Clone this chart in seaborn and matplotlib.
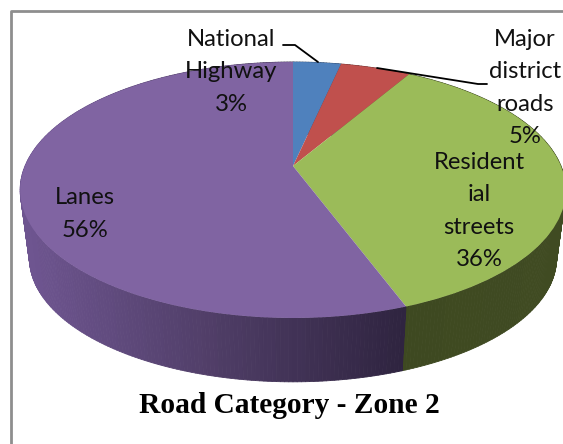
import numpy as np
import matplotlib
matplotlib.use("Agg")
import matplotlib.pyplot as plt
from matplotlib.transforms import Transform
from matplotlib.collections import PolyCollection
import seaborn as sns

categories = ["National\nHighway", "Major\ndistrict\nroads", "Resident\nial\nstreets", "Lanes"]
values = [3.4, 5.0, 35.95, 55.65]
top_colors = ["#4F81BD", "#C0504D", "#9BBB59", "#8064A2"]
side_ramps = [["#2F4A70", "#2F4A70"], ["#70302E", "#70302E"],
              ["#404B22", "#3E4921"], ["#2F2440", "#4F3D66", "#6E5590"]]
title_text = "Road Category - Zone 2"

sns.set_theme(style="white")
plt.rcParams["font.family"] = ["Lato", "DejaVu Sans"]

CX, CY, SX, SY, K = 293.0, 166.0, 268.0, 123.5, 0.1875
DROP, SHRINK = 69.0, 0.966


def project(u, v, lower=False):
    w = 1 + K * v
    x, y = SX * u / w, -SY * v / w
    if lower:
        return CX + SHRINK * x, CY + DROP + SHRINK * y
    return CX + x, CY + y


class Perspective(Transform):
    input_dims = output_dims = 2
    is_affine = False

    def transform_non_affine(self, values):
        values = np.asarray(values)
        x, y = project(values[:, 0], values[:, 1])
        return np.column_stack([x, y])


fig = plt.figure(figsize=(5.63, 4.44), dpi=100, facecolor="white")
ax = fig.add_axes([0, 0, 1, 1])
wedges, _ = ax.pie(values, colors=top_colors, startangle=90, counterclock=False,
                   wedgeprops={"linewidth": 0})
persp = Perspective() + ax.transData
for w in wedges:
    w.set_transform(persp)
    w.set_zorder(3)
ax.set_aspect("auto")
ax.set_xlim(0, 563)
ax.set_ylim(444, 0)
ax.axis("off")

# side wall, derived from the wedge angles
for w, ramp in zip(wedges, side_ramps):
    t = np.radians(np.arange(w.theta1, w.theta2 + 0.75, 0.75))
    t[-1] = min(t[-1], np.radians(w.theta2))
    u, v = np.cos(t), np.sin(t)
    x0, y0 = project(u, v)
    x1, y1 = project(u, v, lower=True)
    polys = [[(x0[i], y0[i]), (x0[i + 1], y0[i + 1]), (x1[i + 1], y1[i + 1]), (x1[i], y1[i])]
             for i in range(len(t) - 1)]
    pal = sns.blend_palette(ramp, 64)
    lo, hi = x0.min(), x0.max()
    if ramp is side_ramps[3]:
        lo, hi = 30, 405
    idx = np.clip(((hi - x0[:-1]) / max(hi - lo, 1) * 63).astype(int), 0, 63)
    cols = [pal[i] for i in idx]
    ax.add_collection(PolyCollection(polys, facecolors=cols, edgecolors=cols,
                                     linewidths=0.6, zorder=2))

# chart frame
ax.plot([11, 11, 563], [444, 11, 11], color="#8E8E8E", lw=2, zorder=1, clip_on=True)

# leader lines
ax.plot([283, 295, 318], [45, 45, 62], color="black", lw=1.3, zorder=4)
ax.plot([377, 478, 487], [68, 84, 84], color="black", lw=1.3, zorder=4)

label_xy = [(231, 72), (525, 88), (479, 211), (85, 214)]
for name, val, (lx, ly) in zip(categories, values, label_xy):
    ax.text(lx, ly, f"{name}\n{val:.0f}%", ha="center", va="center", fontsize=17.2,
            color="#111111", linespacing=1.66, zorder=5)

ax.text(289.5, 405, title_text, ha="center", va="center", fontsize=21.2, fontweight="bold",
        family="Liberation Serif", color="black", zorder=5)

fig.savefig("out.png", dpi=100, facecolor="white")
